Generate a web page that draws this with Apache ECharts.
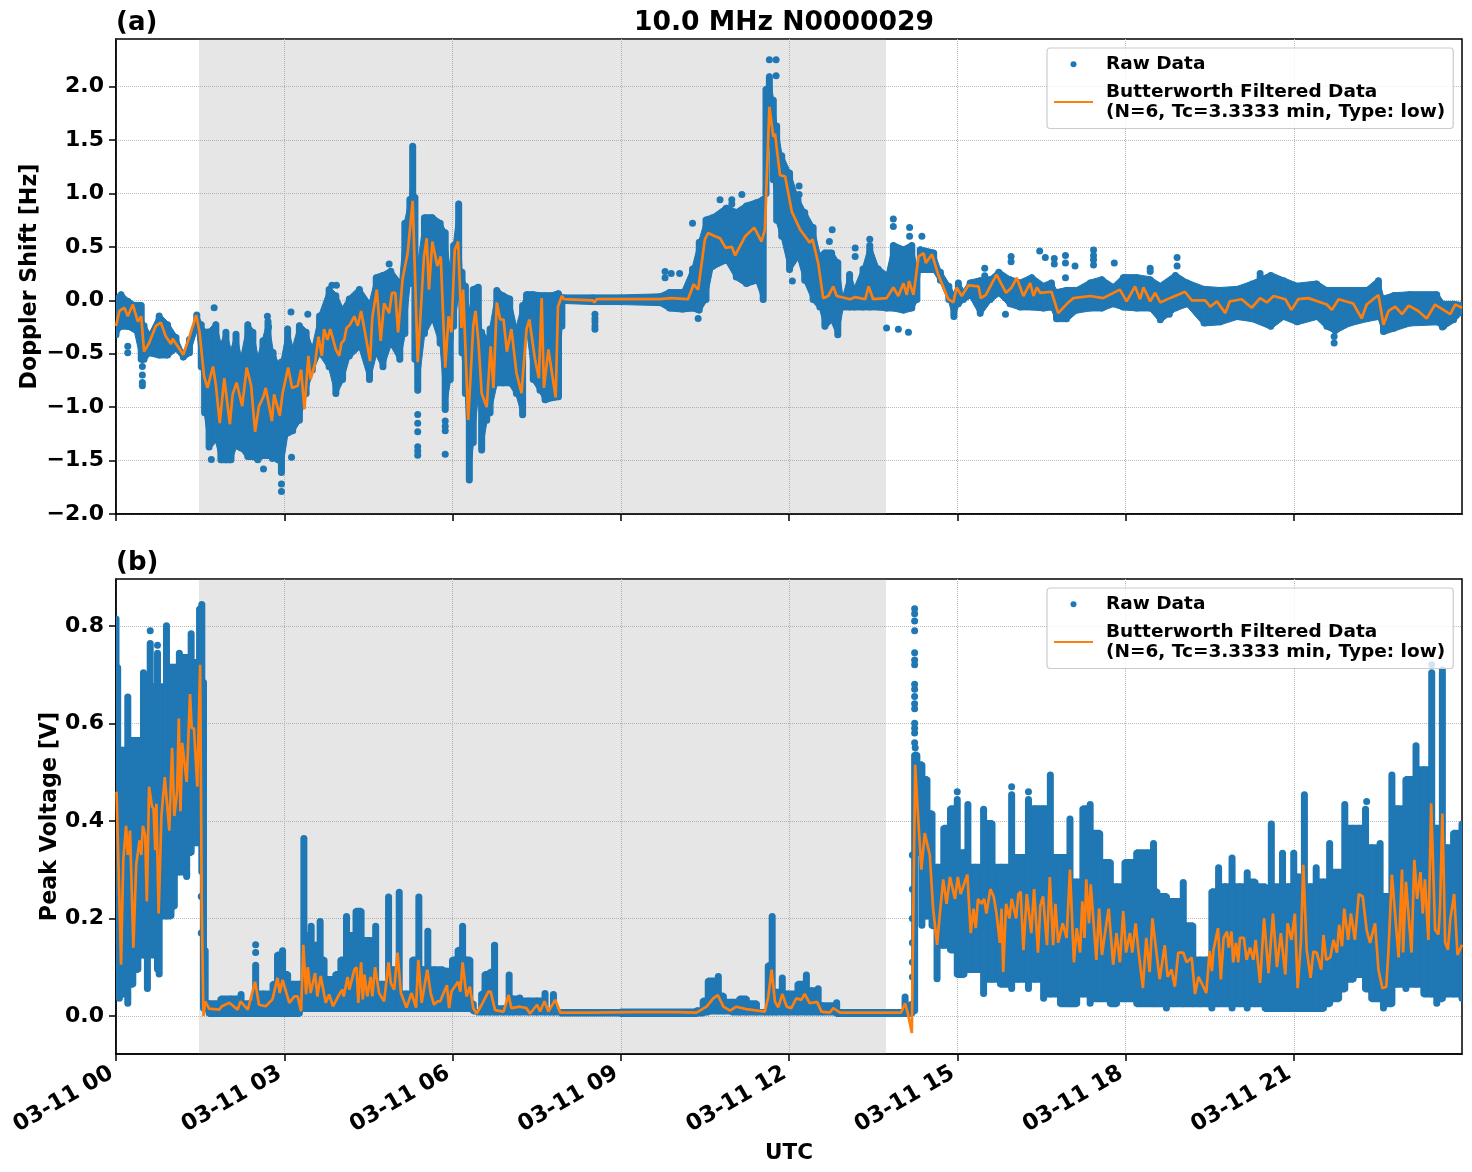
<!DOCTYPE html>
<html><head><meta charset="utf-8">
<style>html,body{margin:0;padding:0;background:#fff}#c{width:1472px;height:1172px}</style>
<script src="https://cdn.jsdelivr.net/npm/echarts@6/dist/echarts.min.js"></script>
</head><body><div id="c"></div>
<script>
const titleText = '10.0 MHz N0000029';
const rawName = 'Raw Data';
const filtName = 'Butterworth Filtered Data\n(N=6, Tc=3.3333 min, Type: low)';
const xTicks = [0,3,6,9,12,15,18,21];
const yTicksA = [-2,-1.5,-1,-0.5,0,0.5,1,1.5,2];
const yTicksB = [0,0.2,0.4,0.6,0.8];
const shadeSpan = [1.48,13.73];

// raw-data spread: [hour, lower edge, upper edge]
const rawBandA = [[0,-.35,.04],[.09,-.27,.08],[.21,-.27,.02],[.33,-.3,-.02],[.45,-.58,-.02],[.5,-.58,-.21],[.6,-.52,-.3],[.77,-.54,-.12],[.92,-.54,-.2],[1.07,-.48,-.32],[1.2,-.56,-.48],[1.31,-.52,-.34],[1.44,-.29,-.11],[1.52,-.65,-.2],[1.58,-1.08,-.27],[1.66,-1.4,-.27],[1.78,-1.33,-.2],[1.87,-1.52,-.4],[1.96,-1.52,-.27],[2.05,-1.52,-.46],[2.14,-1.39,-.29],[2.23,-1.41,-.52],[2.35,-1.49,-.2],[2.44,-1.49,-.27],[2.53,-1.52,-.52],[2.62,-1.48,-.35],[2.71,-1.48,-.17],[2.8,-1.49,-.46],[2.89,-1.52,-.58],[2.95,-1.64,-.55],[3.06,-1.27,-.24],[3.15,-1.25,-.43],[3.27,-1.15,-.21],[3.39,-.9,-.27],[3.5,-.68,-.43],[3.63,-.52,-.12],[3.8,-.65,.13],[3.92,-.9,.07],[4.04,-.77,-.06],[4.16,-.55,.04],[4.34,-.46,.13],[4.52,-.77,-.01],[4.64,-.52,.24],[4.76,-.65,.26],[4.9,-.43,.3],[5.06,-.58,.19],[5.15,-.34,.75],[5.24,.13,.97],[5.29,.2,1.47],[5.33,-.58,.99],[5.38,-.87,.35],[5.5,-.34,.8],[5.64,-.2,.8],[5.78,-.43,.75],[5.87,-1.05,.66],[5.96,-.77,.29],[6.02,-.27,.54],[6.11,.04,.93],[6.17,-.52,.29],[6.23,-.9,.16],[6.3,-1.71,-.09],[6.37,-1.36,.13],[6.46,-.9,.15],[6.52,-1.43,-.27],[6.61,-1.15,-.34],[6.67,-1.08,-.24],[6.79,-.8,.12],[6.9,-.8,.07],[7.02,-.8,.04],[7.14,-.9,-.24],[7.25,-1.1,-.02],[7.32,-.27,.08],[7.44,-.77,.08],[7.56,-.87,.07],[7.65,-.96,.07],[7.77,-.94,.07],[7.89,-.93,.09],[7.95,-.27,.05],[7.99,-.03,.05],[8.5,-.04,.05],[9,-.04,.05],[9.7,-.05,.06],[9.87,-.1,.1],[10.1,-.11,.1],[10.28,-.1,.32],[10.4,-.12,.57],[10.52,-.02,.78],[10.64,.29,.8],[10.88,.35,.89],[11.06,.19,.85],[11.24,.13,.91],[11.42,.16,.94],[11.54,-.02,.97],[11.59,.97,2.0],[11.65,1.5,2.12],[11.72,1.1,1.9],[11.78,.72,1.66],[11.87,.57,1.38],[12.01,.26,1.22],[12.16,.38,.97],[12.28,.16,.85],[12.43,-.02,.71],[12.55,-.09,.44],[12.64,-.27,.47],[12.76,-.21,.47],[12.87,-.35,.38],[12.96,-.09,.04],[13.08,-.09,.27],[13.17,-.09,.13],[13.32,-.09,.32],[13.44,-.09,.54],[13.59,-.09,.32],[13.74,-.1,.26],[13.86,-.1,.54],[14.04,-.12,.5],[14.19,-.1,.54],[14.28,-.02,.32],[14.34,.26,.5],[14.58,.26,.47],[14.7,.16,.29],[14.85,-.02,.16],[14.94,-.18,.07],[15.02,-.06,.19],[15.11,-.02,.1],[15.23,.02,.19],[15.41,-.15,.21],[15.59,-.02,.22],[15.74,.04,.29],[15.94,-.06,.22],[16.12,-.09,.19],[16.33,-.09,.24],[16.54,-.1,.16],[16.68,-.09,.19],[16.77,-.2,.1],[16.95,-.2,.12],[17.13,-.12,.12],[17.37,-.1,.19],[17.58,-.1,.22],[17.78,-.06,.15],[17.96,-.09,.24],[18.2,-.1,.24],[18.44,-.1,.22],[18.62,-.21,.16],[18.89,-.1,.26],[19.1,-.06,.19],[19.4,-.24,.13],[19.69,-.23,.12],[19.99,-.18,.13],[20.26,-.2,.18],[20.59,-.27,.26],[20.82,-.18,.21],[21.06,-.23,.16],[21.41,-.18,.18],[21.59,-.27,.12],[21.74,-.31,.12],[22,-.24,.12],[22.3,-.2,.12],[22.51,-.18,.21],[22.6,-.32,.04],[22.78,-.29,.07],[23.07,-.24,.08],[23.55,-.23,.08],[23.67,-.27,-.01],[23.85,-.21,-.01],[24,-.13,-.02]];

const rawDotsA = [[.21,-.43],[.21,-.49],[.47,-.62],[.47,-.7],[.47,-.77],[.47,-.8],[1.7,-1.49],[2.63,-1.58],[2.79,-1.48],[3.13,-1.47],[2.95,-1.72],[2.95,-1.79],[1.75,-.07],[3.12,-.11],[3.42,-.13],[2.7,-.15],[2.72,-.25],[3.85,.14],[3.93,.14],[4.87,.34],[5.38,-1.07],[5.38,-1.15],[5.38,-1.23],[5.38,-1.37],[5.38,-1.41],[5.38,-1.45],[5.87,-1.13],[5.87,-1.18],[5.87,-1.22],[5.87,-1.44],[8.54,-.13],[8.54,-.17],[8.54,-.2],[8.54,-.24],[8.54,-.27],[10.38,-.17],[10.28,.72],[9.79,.27],[9.79,.21],[9.9,.25],[10.05,.25],[11.16,.99],[10.77,.94],[10.98,.94],[10.98,.9],[11.65,2.25],[11.77,2.25],[11.77,2.1],[12.18,1.07],[12.18,.99],[12.06,.18],[12.77,.66],[12.72,.55],[13.18,.49],[13.18,.41],[13.44,.57],[13.86,.76],[13.86,.69],[14.15,.68],[14.15,.6],[14.37,.6],[13.74,-.26],[13.95,-.27],[14.13,-.3],[15.86,-.13],[15.96,.41],[15.96,.36],[15.49,.3],[15.49,.23],[16.47,.46],[16.57,.4],[16.73,.39],[16.73,.34],[16.93,.42],[16.93,.35],[16.93,.21],[17.1,.32],[17.43,.47],[17.43,.42],[17.43,.38],[17.43,.33],[17.8,.35],[18.44,.3],[18.44,.27],[18.92,.4],[18.92,.32],[18.78,-.13],[20.4,.22],[20.4,.25],[21.72,-.34],[21.72,-.4],[23.65,-.25]];

const filteredA = [[0,-.24],[.06,-.1],[.15,-.07],[.21,-.15],[.3,-.04],[.39,-.2],[.45,-.15],[.5,-.48],[.59,-.4],[.71,-.24],[.8,-.21],[.89,-.34],[.98,-.41],[1.01,-.36],[1.1,-.43],[1.2,-.51],[1.31,-.34],[1.43,-.14],[1.49,-.3],[1.57,-.71],[1.63,-.82],[1.73,-.62],[1.78,-.79],[1.85,-1.15],[1.93,-.73],[2.03,-1.16],[2.08,-.88],[2.15,-.77],[2.25,-.99],[2.33,-.63],[2.41,-.8],[2.48,-1.23],[2.55,-.99],[2.63,-.9],[2.67,-.82],[2.78,-1.13],[2.82,-.88],[2.92,-1.08],[2.97,-.87],[3.07,-.63],[3.14,-.82],[3.24,-.8],[3.3,-.65],[3.36,-1.02],[3.43,-.52],[3.47,-.74],[3.55,-.59],[3.61,-.34],[3.67,-.52],[3.71,-.27],[3.77,-.37],[3.82,-.27],[3.92,-.46],[3.98,-.52],[4.02,-.4],[4.07,-.37],[4.11,-.26],[4.17,-.23],[4.25,-.15],[4.31,-.24],[4.37,-.1],[4.43,-.27],[4.53,-.57],[4.57,-.16],[4.65,.1],[4.72,-.38],[4.78,-.03],[4.87,-.12],[4.92,.07],[4.98,.07],[5.03,-.3],[5.11,.2],[5.2,.44],[5.29,.93],[5.38,-.58],[5.49,.4],[5.54,.58],[5.58,.1],[5.64,.55],[5.73,.32],[5.79,.41],[5.87,-.63],[5.93,-.15],[5.98,-.3],[6.04,.47],[6.1,.55],[6.16,-.26],[6.19,.1],[6.28,-1.12],[6.37,-.24],[6.41,-.1],[6.46,-.37],[6.52,-.87],[6.61,-1],[6.68,-.43],[6.73,-.82],[6.79,-.02],[6.85,-.18],[6.91,-.18],[6.97,-.48],[7.05,-.27],[7.14,-.68],[7.23,-.87],[7.32,-.27],[7.37,-.18],[7.47,-.55],[7.54,-.73],[7.59,.02],[7.63,-.82],[7.71,-.46],[7.84,-.91],[7.88,-.06],[7.95,.04],[7.99,.01],[8.5,0],[8.53,-.02],[8.57,.01],[9.7,.01],[9.9,.02],[10.2,.01],[10.3,.15],[10.38,.1],[10.5,.57],[10.56,.63],[10.68,.6],[10.77,.58],[10.87,.49],[10.98,.5],[11.04,.42],[11.22,.6],[11.38,.68],[11.51,.55],[11.57,.66],[11.65,1.81],[11.72,1.53],[11.75,1.56],[11.84,1.17],[11.93,1.16],[12.05,.83],[12.2,.66],[12.37,.54],[12.42,.57],[12.52,.35],[12.61,.02],[12.7,.04],[12.79,.13],[12.85,.04],[13.09,.01],[13.18,.03],[13.36,.01],[13.42,.13],[13.5,.01],[13.74,.02],[13.86,.12],[13.95,.04],[14.04,.16],[14.1,.05],[14.14,.18],[14.22,.05],[14.31,.41],[14.4,.44],[14.44,.35],[14.55,.43],[14.66,.24],[14.84,.01],[14.93,-.02],[14.99,.12],[15.08,.04],[15.2,.14],[15.38,.13],[15.42,.02],[15.51,.05],[15.7,.24],[15.87,.07],[15.97,.12],[16.06,.21],[16.18,.04],[16.3,.16],[16.36,.04],[16.42,.12],[16.48,.07],[16.68,.08],[16.8,-.12],[16.98,-.02],[17.07,.02],[17.37,.04],[17.6,.02],[17.9,.1],[18.02,-.01],[18.17,.13],[18.26,.01],[18.32,.12],[18.44,-.01],[18.53,.07],[18.62,-.02],[18.79,.02],[19.06,.08],[19.18,0],[19.42,0],[19.51,-.06],[19.63,-.01],[19.78,-.12],[19.86,-.01],[20.07,.01],[20.25,-.07],[20.4,.02],[20.52,-.02],[20.64,.04],[20.85,.01],[20.96,-.09],[21.08,.01],[21.26,.02],[21.59,-.04],[21.68,-.09],[21.8,.01],[22.06,-.03],[22.21,-.17],[22.3,-.04],[22.51,.05],[22.6,-.23],[22.69,-.1],[22.81,-.06],[22.93,-.13],[23.05,-.05],[23.22,-.1],[23.37,-.17],[23.52,-.04],[23.79,-.13],[23.88,-.04],[24,-.07]];

const rawBandB = [[0,.28,.82],[.03,.15,.72],[.06,.03,.55],[.12,.04,.55],[.21,.02,.66],[.3,.06,.57],[.39,.09,.57],[.49,.12,.71],[.56,.05,.64],[.61,.12,.77],[.68,.12,.68],[.74,.09,.75],[.77,.08,.68],[.9,.2,.8],[.98,.2,.72],[1.04,.22,.72],[1.13,.29,.75],[1.26,.28,.74],[1.34,.33,.79],[1.43,.35,.73],[1.49,.35,.84],[1.53,.29,.85],[1.56,.01,.69],[1.59,.01,.14],[1.66,0,.03],[1.87,0,.04],[2.05,0,.04],[2.23,0,.05],[2.38,0,.03],[2.49,0,.11],[2.62,0,.05],[2.8,0,.07],[2.88,0,.13],[2.97,0,.14],[3.06,0,.09],[3.15,0,.07],[3.27,0,.07],[3.35,.01,.37],[3.39,.01,.17],[3.48,.01,.19],[3.57,.01,.15],[3.64,.01,.2],[3.71,.01,.12],[3.8,.01,.08],[3.92,.01,.09],[4.01,.01,.12],[4.11,.01,.21],[4.19,.01,.17],[4.28,.01,.22],[4.37,.01,.22],[4.46,.01,.16],[4.55,.01,.16],[4.63,.01,.19],[4.73,.01,.07],[4.86,.01,.25],[4.93,.01,.1],[5.05,.01,.26],[5.17,.01,.05],[5.29,.01,.12],[5.4,.01,.25],[5.47,.01,.1],[5.56,.01,.18],[5.68,.01,.1],[5.83,.01,.1],[5.9,.01,.097],[6,.01,.12],[6.1,.01,.14],[6.18,.01,.19],[6.25,.01,.12],[6.31,.01,.12],[6.37,.005,.03],[6.43,.003,.012],[6.52,.003,.05],[6.58,.003,.09],[6.67,.003,.095],[6.75,.003,.15],[6.8,.003,.02],[6.91,.003,.02],[7.01,.003,.09],[7.08,.003,.04],[7.2,.003,.043],[7.35,.003,.036],[7.5,.003,.036],[7.65,.003,.052],[7.74,.003,.012],[7.8,.003,.05],[7.92,.001,.012],[9,0,.013],[10.35,0,.016],[10.47,.001,.036],[10.56,.003,.077],[10.74,.005,.087],[10.83,.005,.046],[10.98,.003,.033],[11.12,.003,.04],[11.24,.003,.04],[11.42,.003,.03],[11.57,.003,.012],[11.63,.003,.108],[11.7,.003,.21],[11.77,.003,.054],[11.88,.003,.084],[11.98,.003,.05],[12.16,.003,.07],[12.31,.003,.09],[12.4,.003,.057],[12.52,.003,.062],[12.6,.003,.026],[12.85,0,.033],[12.91,0,.012],[14,0,.012],[14.07,0,.045],[14.15,0,.026],[14.19,0,.03],[14.24,.005,.54],[14.28,.33,.54],[14.37,.18,.52],[14.46,.2,.49],[14.55,.18,.42],[14.64,.07,.31],[14.76,.14,.39],[14.88,.13,.43],[15,.08,.45],[15.12,.08,.34],[15.19,.09,.44],[15.33,.09,.31],[15.47,.04,.43],[15.62,.07,.4],[15.77,.06,.31],[15.97,.05,.46],[16.09,.07,.33],[16.27,.05,.45],[16.39,.07,.43],[16.54,.03,.43],[16.66,.04,.5],[16.84,.02,.33],[17.01,.02,.41],[17.13,.02,.28],[17.24,.04,.43],[17.37,.02,.44],[17.54,.03,.38],[17.73,.02,.32],[17.84,.02,.27],[17.99,.03,.32],[18.2,.02,.34],[18.5,.02,.36],[18.56,.02,.26],[18.73,.01,.25],[18.85,.02,.24],[19.03,.02,.28],[19.2,.02,.19],[19.33,.02,.12],[19.45,.02,.12],[19.54,.01,.26],[19.66,.02,.31],[19.78,.02,.27],[19.9,.01,.33],[20.04,.02,.27],[20.17,.01,.3],[20.31,.02,.28],[20.49,.01,.27],[20.55,.01,.23],[20.6,.01,.4],[20.76,.01,.27],[20.8,.01,.34],[20.9,.01,.27],[21,.01,.34],[21.08,.01,.29],[21.19,.01,.46],[21.29,.01,.27],[21.4,.01,.31],[21.53,.01,.28],[21.64,.02,.36],[21.8,.03,.3],[21.91,.05,.44],[22.06,.07,.39],[22.18,.08,.39],[22.28,.05,.43],[22.39,.03,.35],[22.54,.03,.36],[22.6,.01,.25],[22.75,.02,.5],[22.84,.06,.43],[23,.05,.49],[23.18,.06,.56],[23.32,.04,.51],[23.46,.04,.71],[23.55,.02,.39],[23.65,.03,.71],[23.72,.04,.35],[23.85,.04,.38],[24,.03,.4]];

const rawDotsB = [[.49,.67],[.49,.69],[.61,.79],[.9,.8],[.74,.76],[1.26,.29],[1.26,.31],[1.19,.33],[1.52,.245],[1.52,.17],[2.49,.146],[2.49,.13],[6.75,.145],[6.75,.136],[14.24,.835],[14.24,.825],[14.24,.81],[14.24,.79],[14.24,.745],[14.24,.73],[14.24,.72],[14.24,.68],[14.24,.67],[14.24,.655],[14.24,.64],[14.24,.63],[14.24,.6],[14.24,.59],[14.24,.58],[14.24,.56],[14.25,.55],[14.2,.33],[14.2,.26],[14.2,.2],[14.2,.15],[14.2,.11],[14.2,.08],[15.97,.47],[16.27,.46],[15.47,.42],[15,.46],[23.46,.72],[23.65,.71],[22.3,.44]];

const filteredB = [[.01,.46],[.09,.105],[.13,.32],[.18,.39],[.21,.33],[.25,.38],[.31,.14],[.36,.31],[.42,.36],[.45,.33],[.48,.39],[.52,.37],[.55,.235],[.59,.47],[.64,.43],[.67,.425],[.7,.34],[.72,.435],[.76,.21],[.81,.41],[.87,.49],[.95,.38],[1,.55],[1.04,.41],[1.09,.46],[1.12,.61],[1.15,.42],[1.18,.56],[1.26,.48],[1.32,.66],[1.35,.59],[1.39,.59],[1.45,.47],[1.5,.72],[1.53,.21],[1.56,0],[1.59,.03],[1.66,.015],[1.84,.013],[1.89,.02],[2.02,.027],[2.17,.013],[2.22,.03],[2.35,.013],[2.48,.07],[2.55,.023],[2.67,.02],[2.79,.034],[2.88,.078],[2.92,.047],[2.97,.074],[3.09,.027],[3.18,.04],[3.24,.04],[3.3,.01],[3.34,.146],[3.39,.044],[3.42,.1],[3.47,.047],[3.55,.088],[3.59,.04],[3.65,.082],[3.74,.027],[3.8,.044],[3.87,.02],[3.98,.044],[4.04,.054],[4.06,.04],[4.13,.08],[4.16,.054],[4.25,.095],[4.29,.1],[4.32,.027],[4.37,.11],[4.4,.034],[4.43,.085],[4.48,.04],[4.54,.08],[4.57,.04],[4.62,.1],[4.69,.047],[4.78,.03],[4.86,.11],[4.9,.068],[4.96,.054],[5.02,.13],[5.08,.047],[5.11,.044],[5.18,.017],[5.23,.034],[5.27,.047],[5.35,.017],[5.39,.115],[5.45,.027],[5.55,.095],[5.61,.047],[5.67,.023],[5.73,.03],[5.78,.03],[5.9,.063],[5.94,.016],[5.98,.05],[6.1,.07],[6.14,.05],[6.18,.11],[6.25,.04],[6.31,.06],[6.37,.016],[6.43,.005],[6.52,.023],[6.64,.05],[6.68,.05],[6.76,.012],[6.91,.009],[7,.043],[7.05,.016],[7.2,.019],[7.32,.016],[7.38,.005],[7.51,.023],[7.56,.009],[7.64,.03],[7.71,.009],[7.83,.033],[7.92,.007],[8.5,.007],[9.2,.008],[10,.008],[10.35,.007],[10.53,.019],[10.65,.036],[10.73,.043],[10.83,.019],[10.95,.011],[11.06,.019],[11.24,.014],[11.57,.009],[11.63,.039],[11.69,.095],[11.75,.029],[11.81,.018],[11.88,.045],[11.96,.019],[12.04,.016],[12.13,.036],[12.22,.033],[12.28,.045],[12.37,.026],[12.5,.029],[12.58,.009],[12.73,.007],[12.79,.016],[12.91,.007],[14,.007],[14.07,.026],[14.12,.005],[14.19,-.035],[14.25,.515],[14.29,.43],[14.36,.3],[14.42,.375],[14.51,.33],[14.57,.22],[14.64,.146],[14.69,.21],[14.75,.28],[14.81,.23],[14.87,.285],[14.96,.24],[15.01,.285],[15.06,.25],[15.18,.29],[15.24,.17],[15.29,.22],[15.33,.18],[15.37,.24],[15.43,.23],[15.48,.24],[15.52,.21],[15.59,.26],[15.65,.245],[15.7,.21],[15.76,.15],[15.79,.22],[15.82,.09],[15.87,.23],[15.93,.2],[15.97,.24],[16.05,.2],[16.09,.25],[16.13,.255],[16.18,.135],[16.24,.25],[16.32,.17],[16.37,.26],[16.44,.13],[16.48,.225],[16.53,.245],[16.6,.145],[16.65,.285],[16.71,.145],[16.75,.23],[16.8,.15],[16.88,.19],[16.95,.16],[17.01,.3],[17.08,.11],[17.13,.18],[17.19,.13],[17.23,.235],[17.27,.16],[17.3,.28],[17.35,.19],[17.38,.27],[17.48,.115],[17.53,.22],[17.58,.125],[17.66,.19],[17.7,.22],[17.78,.105],[17.84,.17],[17.9,.11],[17.96,.215],[18.01,.13],[18.08,.17],[18.12,.13],[18.18,.19],[18.23,.135],[18.31,.057],[18.37,.16],[18.43,.09],[18.48,.2],[18.52,.16],[18.61,.075],[18.7,.145],[18.75,.08],[18.82,.095],[18.88,.06],[18.94,.13],[19.03,.13],[19.09,.11],[19.18,.12],[19.24,.045],[19.3,.08],[19.36,.067],[19.44,.047],[19.5,.133],[19.54,.092],[19.57,.136],[19.65,.18],[19.7,.075],[19.75,.16],[19.81,.173],[19.84,.14],[19.89,.173],[19.92,.11],[19.97,.15],[20.01,.11],[20.04,.16],[20.11,.16],[20.16,.115],[20.22,.14],[20.28,.115],[20.32,.156],[20.4,.068],[20.47,.2],[20.55,.088],[20.63,.21],[20.7,.1],[20.77,.17],[20.85,.085],[20.89,.19],[20.96,.156],[21.02,.21],[21.07,.057],[21.13,.156],[21.17,.31],[21.23,.136],[21.3,.078],[21.35,.132],[21.41,.13],[21.49,.095],[21.53,.166],[21.58,.115],[21.65,.12],[21.71,.156],[21.77,.13],[21.81,.187],[21.86,.143],[21.9,.22],[21.97,.156],[22.02,.21],[22.09,.156],[22.16,.25],[22.23,.245],[22.3,.176],[22.36,.15],[22.45,.19],[22.51,.095],[22.58,.057],[22.65,.06],[22.69,.136],[22.75,.29],[22.87,.12],[22.93,.3],[22.95,.13],[23,.275],[23.1,.13],[23.15,.32],[23.2,.24],[23.26,.295],[23.3,.21],[23.34,.28],[23.4,.156],[23.45,.436],[23.52,.177],[23.58,.167],[23.61,.228],[23.65,.415],[23.7,.15],[23.75,.136],[23.79,.197],[23.86,.25],[23.92,.125],[24,.146]];

const BLUE='#1f77b4', ORANGE='#ff7f0e', FONT='"DejaVu Sans"';
const dotIcon='path://M0 0L0 0M39 14L39 14M16.5 7a3 3 0 1 0 6 0a3 3 0 1 0 -6 0z';
const CAP=3;

function bandSeries(arr,i,stepped){
  return {type:'custom',name:'band'+i,xAxisIndex:i,yAxisIndex:i,data:arr,clip:true,z:2,silent:true,
    encode:{x:0,y:[1,2]},
    renderItem:function(p,api){
      const k=p.dataIndex, a=arr[k], b=arr[Math.min(k+1,arr.length-1)];
      const lo=api.coord([a[0],a[1]]), hi=api.coord([a[0],a[2]]);
      // rounded column the width of one raw-data marker, its caps ending on the read edges
      const y1=lo[1]-CAP, y2=hi[1]+CAP, mid=(lo[1]+hi[1])/2;
      const kids=[{type:'line',shape:{x1:lo[0],y1:y1>y2?y1:mid,x2:lo[0],y2:y1>y2?y2:mid},
        style:{stroke:BLUE,lineWidth:7,lineCap:'round'}}];
      if(k<arr.length-1){
        const pts=stepped
          ? [api.coord([a[0],Math.max(a[1],b[1])]),api.coord([b[0],Math.max(a[1],b[1])]),api.coord([b[0],Math.min(a[2],b[2])]),api.coord([a[0],Math.min(a[2],b[2])])]
          : [lo,api.coord([b[0],b[1]]),api.coord([b[0],b[2]]),hi];
        kids.unshift({type:'polygon',shape:{points:pts},style:{fill:BLUE,stroke:BLUE,lineWidth:stepped?2:1,lineJoin:'round'}});
      }
      return {type:'group',children:kids};
    }};
}
function dotSeries(arr,i){
  return {type:'scatter',name:rawName,xAxisIndex:i,yAxisIndex:i,data:arr,symbolSize:7,z:3,
    itemStyle:{color:BLUE,opacity:1},clip:true,silent:true};
}
function lineSeries(arr,i){
  return {type:'line',name:filtName,xAxisIndex:i,yAxisIndex:i,data:arr,showSymbol:false,symbol:'none',z:4,
    lineStyle:{color:ORANGE,width:2.7},itemStyle:{color:ORANGE},clip:true,silent:true,
    markArea:{silent:true,z:1,itemStyle:{color:'rgba(128,128,128,0.2)'},data:[[{xAxis:shadeSpan[0]},{xAxis:shadeSpan[1]}]]}};
}
function xAxis(i,labels){
  return {type:'value',gridIndex:i,min:0,max:24,
    name:labels?'UTC':'',nameLocation:'middle',nameGap:88,
    nameTextStyle:{fontFamily:FONT,fontWeight:'bold',fontSize:21.5,color:'#000'},
    axisLine:{show:true,onZero:false,lineStyle:{color:'#000',width:1.5}},
    axisTick:{show:true,length:7,lineStyle:{color:'#000',width:1.5},customValues:xTicks},
    axisLabel:{show:labels,customValues:xTicks,rotate:30,margin:15,padding:[0,5,0,0],fontFamily:FONT,fontWeight:'bold',fontSize:22.5,color:'#000',
      formatter:v=>'03-11 '+String(v).padStart(2,'0')},
    splitLine:{show:true,lineStyle:{type:'dotted',color:'#bcbcbc',width:1}}};
}
function yAxis(i,name,min,max,ticks,gap){
  return {type:'value',gridIndex:i,min:min,max:max,name:name,nameLocation:'middle',nameGap:gap,nameMoveOverlap:false,
    nameTextStyle:{fontFamily:FONT,fontWeight:'bold',fontSize:22.2,color:'#000'},
    axisLine:{show:true,onZero:false,lineStyle:{color:'#000',width:1.5}},
    axisTick:{show:true,length:7,lineStyle:{color:'#000',width:1.5},customValues:ticks},
    axisLabel:{customValues:ticks,margin:12,fontFamily:FONT,fontWeight:'bold',fontSize:22,color:'#000',padding:[4,0,0,0],
      formatter:v=>v.toFixed(1).replace('-','\u2212')},
    splitLine:{show:true,lineStyle:{type:'dotted',color:'#bcbcbc',width:1}}};
}
function legend(top){
  return {show:true,orient:'vertical',left:1047,top:top,padding:[6,8,6,6],itemGap:7,itemWidth:39,itemHeight:14,
    backgroundColor:'rgba(255,255,255,0.8)',borderColor:'#cccccc',borderWidth:1.2,borderRadius:3,selectedMode:false,z:10,
    textStyle:{fontFamily:FONT,fontWeight:'bold',fontSize:18.5,lineHeight:20.5,color:'#000',padding:[0,0,0,8]},
    data:[{name:rawName,icon:dotIcon},{name:filtName,itemStyle:{opacity:0}}]};
}
const titleStyle=(s)=>({fontFamily:FONT,fontWeight:'bold',fontSize:s,color:'#000'});
const chart=echarts.init(document.getElementById('c'),null,{renderer:'canvas'});
chart.setOption({
  animation:false,backgroundColor:'#fff',
  title:[
    {text:titleText,left:784,top:10,padding:0,textAlign:'center',textStyle:titleStyle(26.6)},
    {text:'(a)',left:116,top:10,padding:0,textStyle:titleStyle(26)},
    {text:'(b)',left:116,top:550,padding:0,textStyle:titleStyle(26)}
  ],
  legend:[legend(48),legend(588)],
  grid:[
    {left:116,top:39,width:1346,height:475,show:true,borderColor:'#000',borderWidth:1.5,backgroundColor:'transparent'},
    {left:116,top:579,width:1346,height:475,show:true,borderColor:'#000',borderWidth:1.5,backgroundColor:'transparent'}
  ],
  xAxis:[xAxis(0,false),xAxis(1,true)],
  yAxis:[yAxis(0,'Doppler Shift [Hz]',-2,2.445,yTicksA,75),yAxis(1,'Peak Voltage [V]',-0.078,0.896,yTicksB,55)],
  series:[
    bandSeries(rawBandA,0,false),dotSeries(rawDotsA,0),lineSeries(filteredA,0),
    bandSeries(rawBandB,1,true),dotSeries(rawDotsB,1),lineSeries(filteredB,1)
  ]
});
</script></body></html>
